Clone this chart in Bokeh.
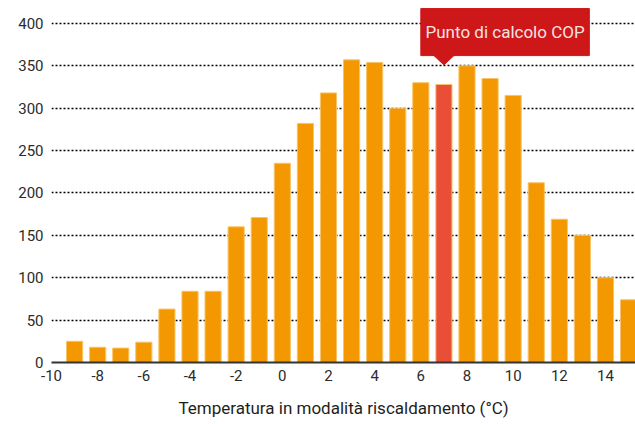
from bokeh.plotting import figure
from bokeh.models import ColumnDataSource, FixedTicker, Label, Range1d
from bokeh.embed import file_html
from bokeh.resources import INLINE

# ---- data ----
temps = [-9, -8, -7, -6, -5, -4, -3, -2, -1, 0, 1, 2, 3, 4, 5, 6, 7, 8, 9, 10, 11, 12, 13, 14, 15]
hours = [25, 18, 17, 24, 63, 84, 84, 160, 171, 235, 282, 318, 357, 354, 300, 330, 328, 350, 335, 315, 212, 169, 150, 100, 74]
x_ticks = [-10, -8, -6, -4, -2, 0, 2, 4, 6, 8, 10, 12, 14]
y_ticks = [0, 50, 100, 150, 200, 250, 300, 350, 400]
highlight_temp = 7
annotation_text = "Punto di calcolo COP"
x_title = "Temperatura in modalità riscaldamento (°C)"

FONT = "Roboto"
ORANGE = "#F39800"
RED_BAR = "#E94E36"
RED_BOX = "#CD1719"

colors = [RED_BAR if t == highlight_temp else ORANGE for t in temps]
src = ColumnDataSource(dict(x=temps, top=hours, color=colors))

p = figure(width=635, height=424, output_backend="svg", toolbar_location=None,
           x_range=Range1d(-10, 15.3), y_range=Range1d(0, 427),
           min_border_left=51, min_border_right=0, min_border_top=0, min_border_bottom=62)
p.outline_line_color = None
p.background_fill_color = "white"
p.border_fill_color = "white"

p.vbar(x="x", top="top", width=0.7, bottom=0, fill_color="color",
       line_color="#F7C46A", line_width=1, source=src)

# grid
p.xgrid.grid_line_color = None
p.ygrid.ticker = FixedTicker(ticks=y_ticks[1:])
p.ygrid.grid_line_color = "black"
p.ygrid.grid_line_dash = "2 2"
p.ygrid.grid_line_width = 1.3
p.ygrid.level = "underlay"

# y axis
p.yaxis.ticker = FixedTicker(ticks=y_ticks)
p.yaxis.axis_line_color = None
p.yaxis.major_tick_line_color = None
p.yaxis.minor_tick_line_color = None
p.yaxis.major_tick_out = 0
p.yaxis.major_tick_in = 0
p.yaxis.major_label_standoff = 8
p.yaxis.major_label_text_font = FONT
p.yaxis.major_label_text_font_size = "15px"
p.yaxis.major_label_text_color = "#2b2b2b"

# x axis
p.xaxis.ticker = FixedTicker(ticks=x_ticks)
p.xaxis.major_label_overrides = {t: str(t) for t in x_ticks}
p.xaxis.axis_line_color = "#333333"
p.xaxis.axis_line_width = 2
p.xaxis.major_tick_line_color = None
p.xaxis.minor_tick_line_color = None
p.xaxis.major_tick_out = 0
p.xaxis.major_tick_in = 0
p.xaxis.major_label_standoff = 7
p.xaxis.major_label_text_font = FONT
p.xaxis.major_label_text_font_size = "15px"
p.xaxis.major_label_text_color = "#2b2b2b"
p.xaxis.axis_label = x_title
p.xaxis.axis_label_text_font = FONT
p.xaxis.axis_label_text_font_style = "normal"
p.xaxis.axis_label_text_font_size = "17px"
p.xaxis.axis_label_text_color = "#1e1e1e"
p.xaxis.axis_label_standoff = 14

# annotation box (positioned relative to highlighted bar)
hv = hours[temps.index(highlight_temp)]
box_left = highlight_temp - 1.0
box_right = highlight_temp + 6.3
box_bottom = hv + 34
box_top = hv + 89.5
tip_y = hv + 23
p.quad(left=[box_left], right=[box_right], bottom=[box_bottom], top=[box_top],
       fill_color=RED_BOX, line_color=RED_BOX)
p.patch(x=[highlight_temp - 0.45, highlight_temp + 0.45, highlight_temp],
        y=[box_bottom + 0.5, box_bottom + 0.5, tip_y],
        fill_color=RED_BOX, line_color=RED_BOX)
p.add_layout(Label(x=(box_left + box_right) / 2, y=(box_bottom + box_top) / 2,
                   text=annotation_text, text_align="center", text_baseline="middle",
                   text_font=FONT, text_font_size="17px", text_color="#F8E2E2"))

open("out.html", "w").write(file_html(p, INLINE))
